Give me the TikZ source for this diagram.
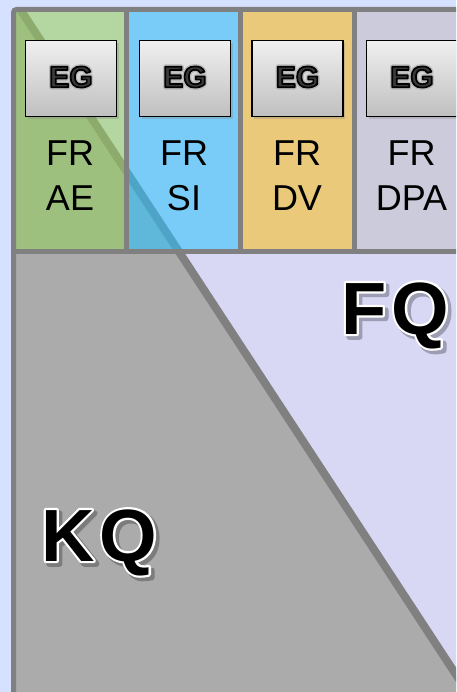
\documentclass[tikz,border=0pt]{standalone}
\usepackage{fontspec}
\setmainfont{Liberation Sans}
\usetikzlibrary{shadows}

\definecolor{pagebg}{HTML}{D5E1FE}
\definecolor{framegray}{HTML}{808080}
\definecolor{colgreen}{HTML}{B4D6A0}
\definecolor{colgreendk}{HTML}{9EC07E}
\definecolor{colgreenln}{HTML}{8CAB6C}
\definecolor{colblue}{HTML}{7ACCF8}
\definecolor{colbluedk}{HTML}{5FB8DA}
\definecolor{colblueln}{HTML}{4EA4C6}
\definecolor{colyellow}{HTML}{EAC97A}
\definecolor{collav}{HTML}{CBCBDB}
\definecolor{kqgray}{HTML}{ABABAB}
\definecolor{fqlav}{HTML}{D8D8F5}
\definecolor{egink}{HTML}{3A3A3A}
\definecolor{egglowc}{HTML}{B8B8B8}
\definecolor{fqshade}{HTML}{9C9CB2}
\definecolor{kqshade}{HTML}{7C7C7C}

% glyphs filled with the current colour and stroked with width #1 in rgb colour #2
\newcommand\strokedglyphs[3]{%
  \special{pdf:code q 2 Tr #1 w #2 RG 1 j 1 J}#3\special{pdf:code Q}}
% black lettering with a white rim and a shadow of colour #1 (rgb #2)
\newcommand\rimmed[3]{%
  \rlap{\hspace*{3pt}\raisebox{-3pt}{\color{#1}\strokedglyphs{5.5}{#2}{#3}}}%
  \rlap{\color{white}\strokedglyphs{4.4}{1 1 1}{#3}}{\color{black}#3}}
% button caption: dark glyphs, black edge, soft grey glow
\newcommand\buttoncaption[1]{%
  \rlap{\color{egglowc}\strokedglyphs{4.5}{0.72 0.72 0.72}{#1}}%
  {\color{egink}\strokedglyphs{1.7}{0 0 0}{#1}}}

\begin{document}
\begin{tikzpicture}[x=1pt,y=-1pt,
  egbox/.style={draw=black, line width=1.5pt, minimum width=91pt, minimum height=76pt,
    inner sep=0pt, top color=white!94!black, bottom color=white!75!black,
    drop shadow={shadow xshift=2pt, shadow yshift=-3pt, opacity=0.3}},
  egtext/.style={font=\bfseries\fontsize{30}{32}\selectfont, inner sep=0pt},
  frtext/.style={font=\fontsize{36}{45}\selectfont, align=center, inner sep=0pt, anchor=north},
  bigtext/.style={font=\bfseries\fontsize{74}{74}\selectfont, inner sep=0pt, anchor=base},
  border/.style={framegray, line width=5pt},
]
\clip (0,0) rectangle (456,692);
\fill[pagebg] (0,0) rectangle (456,692);

% the diagonal split line
\coordinate (dtop) at (14.1,0);
\coordinate (dbot) at (472.6,700);

% lower area: KQ wedge and FQ field
\begin{scope}
  \clip (13.5,252) rectangle (470,700);
  \fill[fqlav] (13.5,252) rectangle (470,700);
  \fill[kqgray] (0,0) -- (dtop) -- (dbot) -- (0,700) -- cycle;
  \draw[framegray, line width=8pt] (dtop) -- (dbot);
\end{scope}

% column fills of the top row
\fill[colgreen]  (13.5,9.5) rectangle (126.5,252);
\fill[colblue]   (126.5,9.5) rectangle (240.5,252);
\fill[colyellow] (240.5,9.5) rectangle (354.5,252);
\fill[collav]    (354.5,9.5) rectangle (470,252);

\begin{scope}
  \clip (13.5,9.5) rectangle (126.5,252);
  \fill[colgreendk] (0,0) -- (dtop) -- (dbot) -- (0,700) -- cycle;
  \draw[colgreenln, line width=8pt] (dtop) -- (dbot);
\end{scope}
\begin{scope}
  \clip (126.5,9.5) rectangle (240.5,252);
  \fill[colbluedk] (0,0) -- (dtop) -- (dbot) -- (0,700) -- cycle;
  \draw[colblueln, line width=8pt] (dtop) -- (dbot);
\end{scope}

% frame and dividers
\draw[border, rounded corners=3pt] (13.5,720) -- (13.5,9.5) -- (480,9.5);
\draw[border] (11,252) -- (480,252);
\foreach \x in {126.5,240.5,354.5}
  \draw[border] (\x,9.5) -- (\x,252);

% buttons with their captions
\foreach \n/\x in {1/71, 2/185, 3/297.5, 4/412}{
  \node[egbox] (eg\n) at (\x,78.5) {};
  \node[egtext] (egcap\n) at (\x,77) {\buttoncaption{EG}};
}

% column captions
\node[frtext] (fr1) at (70,140.5) {FR\\AE};
\node[frtext] (fr2) at (184,140.5) {FR\\SI};
\node[frtext] (fr3) at (297,140.5) {FR\\DV};
\node[frtext] (fr4) at (411.5,140.5) {FR\\DPA};

% area labels
\node[bigtext] (fq) at (395,334) {\rimmed{fqshade}{0.612 0.612 0.698}{F\kern5pt Q}};
\node[bigtext] (kq) at (99,561) {\rimmed{kqshade}{0.486 0.486 0.486}{K\kern5pt Q}};
\end{tikzpicture}
\end{document}
